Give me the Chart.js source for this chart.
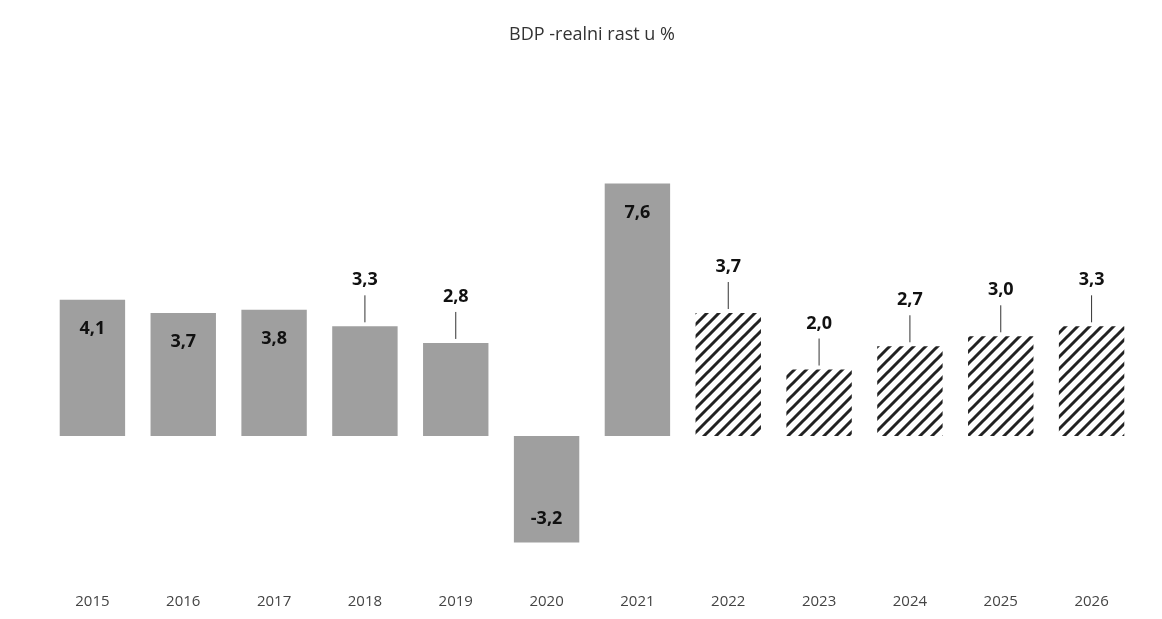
<!DOCTYPE html>
<html>
<head>
<meta charset="utf-8">
<script src="https://cdn.jsdelivr.net/npm/chart.js@4/dist/chart.umd.min.js"></script>
<style>
  html, body { margin: 0; padding: 0; background: #fff; }
  #wrap { position: relative; width: 1162px; height: 619px; }
</style>
</head>
<body>
<div id="wrap"><canvas id="chart"></canvas></div>
<script>
// data
const years = ['2015', '2016', '2017', '2018', '2019', '2020', '2021', '2022', '2023', '2024', '2025', '2026'];
const growth = [4.1, 3.7, 3.8, 3.3, 2.8, -3.2, 7.6, 3.7, 2.0, 2.7, 3.0, 3.3];
const isForecast = [false, false, false, false, false, false, false, true, true, true, true, true];
// where each value label sits: inside the bar, or above it with a leader line
const labelPlace = ['in', 'in', 'in', 'out', 'out', 'in', 'in', 'out', 'out', 'out', 'out', 'out'];

const BAR_GREY = '#9f9f9f';

function hatchPattern() {
  const c = document.createElement('canvas');
  c.width = 12; c.height = 12;
  const g = c.getContext('2d');
  g.fillStyle = '#fff';
  g.fillRect(0, 0, 12, 12);
  g.strokeStyle = '#222';
  g.lineWidth = 3;
  g.beginPath();
  g.moveTo(-3, 15); g.lineTo(15, -3);
  g.moveTo(-9, 9); g.lineTo(9, -9);
  g.moveTo(3, 21); g.lineTo(21, 3);
  g.stroke();
  return g.createPattern(c, 'repeat');
}

const ctx = document.getElementById('chart').getContext('2d');
const hatch = hatchPattern();

const valueLabels = {
  id: 'valueLabels',
  afterDatasetsDraw(chart) {
    const c = chart.ctx;
    const meta = chart.getDatasetMeta(0);
    c.save();
    c.font = 'bold 18px "Open Sans", sans-serif';
    c.fillStyle = '#111';
    c.textAlign = 'center';
    c.textBaseline = 'middle';
    meta.data.forEach((bar, i) => {
      const v = growth[i];
      const txt = v.toFixed(1).replace('.', ',');
      let y;
      if (labelPlace[i] === 'out') {
        y = bar.y - 46;
        c.strokeStyle = '#333';
        c.lineWidth = 1;
        c.beginPath();
        c.moveTo(bar.x, y + 15);
        c.lineTo(bar.x, bar.y - 4);
        c.stroke();
      } else if (v < 0) {
        y = bar.y - 24;
      } else {
        y = bar.y + 29;
      }
      c.fillText(txt, bar.x, y);
    });
    c.restore();
  }
};

new Chart(ctx, {
  type: 'bar',
  data: {
    labels: years,
    datasets: [{
      data: growth,
      backgroundColor: isForecast.map((f) => (f ? hatch : BAR_GREY)),
      borderWidth: 0,
      barPercentage: 0.72,
      categoryPercentage: 1,
    }],
  },
  options: {
    responsive: true,
    maintainAspectRatio: false,
    animation: false,
    layout: { padding: { left: 47, right: 25, top: 0, bottom: 0 } },
    plugins: {
      legend: { display: false },
      tooltip: { enabled: false },
      title: {
        display: true,
        text: 'BDP -realni rast u %',
        color: '#333',
        font: { family: '"Open Sans", sans-serif', size: 18, weight: 'normal' },
        padding: { top: 24, bottom: 58 },
      },
    },
    scales: {
      x: {
        grid: { display: false },
        border: { display: false },
        ticks: { color: '#444', font: { family: '"Open Sans", sans-serif', size: 15 }, padding: 16 },
        afterFit(scale) { scale.height = 50; },
      },
      y: {
        display: false,
        min: -4,
        max: 10,
      },
    },
  },
  plugins: [valueLabels],
});
</script>
</body>
</html>
